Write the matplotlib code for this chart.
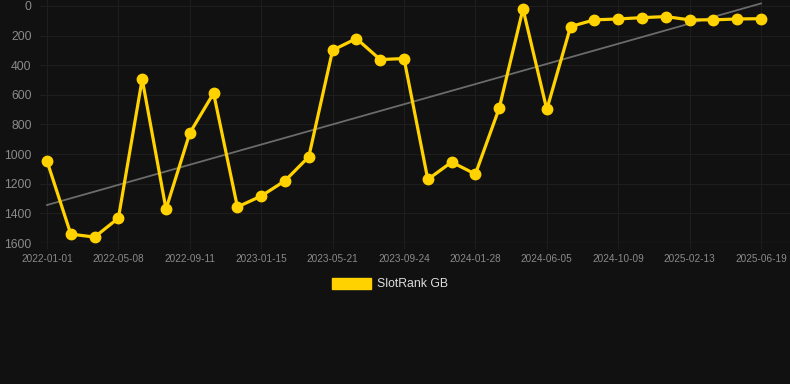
import numpy as np
import matplotlib
matplotlib.use("Agg")
import matplotlib.pyplot as plt
from matplotlib.patches import Patch

plt.rcParams['font.family'] = ['Liberation Sans', 'DejaVu Sans']

# rank readings, one every few weeks (lower = better, axis is inverted)
rank = [1047, 1540, 1560, 1432, 494, 1371, 858, 589, 1357, 1283,
        1180, 1018, 299, 220, 362, 355, 1171, 1054, 1135, 690,
        20, 699, 139, 94, 88, 79, 72, 94, 94, 88, 86]
tick_labels = ['2022-01-01', '2022-05-08', '2022-09-11', '2023-01-15',
               '2023-05-21', '2023-09-24', '2024-01-28', '2024-06-05',
               '2024-10-09', '2025-02-13', '2025-06-19']
series_name = 'SlotRank GB'

bg = '#111111'
yellow = '#ffd200'
grid_c = '#1e1e1e'
text_c = '#8a8a8a'

x = np.arange(len(rank))

fig = plt.figure(figsize=(7.9, 3.84), dpi=100, facecolor=bg)
ax = fig.add_axes([40 / 790, 1 - 243 / 384, 750 / 790, 243 / 384], facecolor=bg)

# linear trend through the data
k, b = np.polyfit(x, rank, 1)
ax.plot(x, k * x + b, color='#6b6b6b', lw=1.3, zorder=2)

ax.plot(x, rank, color=yellow, lw=2.3, marker='o', ms=7.5, zorder=3)

ax.set_xlim(-7 / 23.8, 30 + 29 / 23.8)
ax.set_ylim(1600, -40)
ax.set_yticks(np.arange(0, 1601, 200))
ax.set_xticks(x[::3])
ax.set_xticklabels(tick_labels)

ax.grid(True, color=grid_c, lw=0.8)
ax.set_axisbelow(True)
for s in ax.spines.values():
    s.set_visible(False)
ax.axhline(1600, color='#262626', lw=1, zorder=1)

ax.tick_params(axis='y', colors=text_c, labelsize=8.7, length=0, pad=6)
ax.tick_params(axis='x', colors=text_c, labelsize=7.2, length=4, width=0.8,
               color=grid_c, pad=4)

leg = fig.legend(handles=[Patch(facecolor=yellow, edgecolor=yellow)], labels=[series_name],
                 loc='center', bbox_to_anchor=(390 / 790, 1 - 284 / 384),
                 frameon=False, handlelength=3.2, handleheight=1.0,
                 handletextpad=0.5, fontsize=8.8)
for t in leg.get_texts():
    t.set_color('#dddddd')

fig.savefig('out.png', dpi=100, facecolor=bg)
